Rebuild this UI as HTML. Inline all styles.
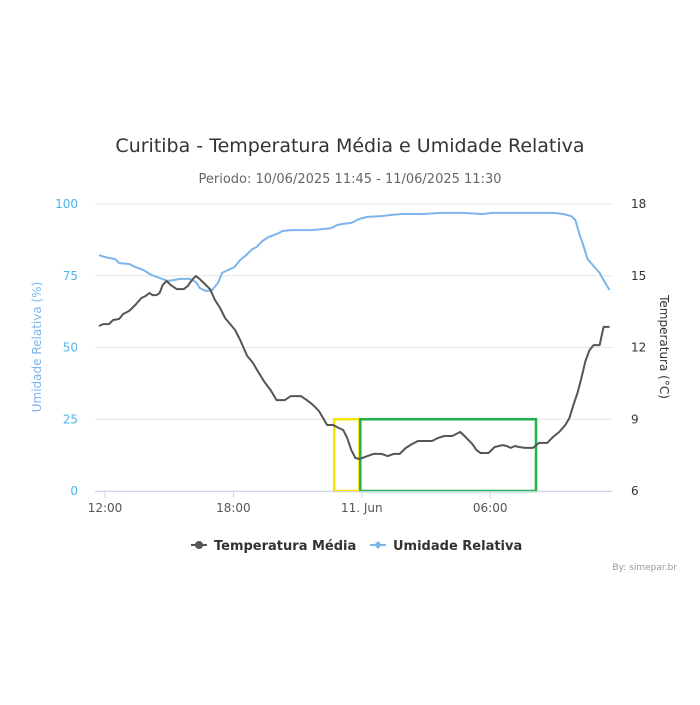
<!DOCTYPE html>
<html><head><meta charset="utf-8"><style>
body{margin:0;background:#fff;font-family:"Liberation Sans","DejaVu Sans",sans-serif}
svg text{font-family:"DejaVu Sans","Liberation Sans",sans-serif}
</style></head><body>
<svg id="chart" width="700" height="700" xmlns="http://www.w3.org/2000/svg">
<rect width="700" height="700" fill="#fff"/>
<text x="350" y="152" text-anchor="middle" font-size="19" fill="#333">Curitiba - Temperatura Média e Umidade Relativa</text>
<text x="350" y="183" text-anchor="middle" font-size="13" fill="#666">Periodo: 10/06/2025 11:45 - 11/06/2025 11:30</text>
<g id="grid"></g>
<g id="boxes"></g>
<g id="series"></g>
<g id="axes"></g>
<text transform="translate(41,347) rotate(-90)" text-anchor="middle" font-size="12" fill="#7cb5ec">Umidade Relativa (%)</text>
<text transform="translate(660,347) rotate(90)" text-anchor="middle" font-size="12" fill="#333">Temperatura (°C)</text>
<g>
<line x1="191" y1="545" x2="207" y2="545" stroke="#555" stroke-width="2"/><circle cx="199" cy="545" r="4" fill="#555"/>
<text x="214" y="550" font-size="13" font-weight="bold" fill="#333">Temperatura Média</text></g>
<g>
<line x1="370" y1="545" x2="386" y2="545" stroke="#7cb5ec" stroke-width="2"/><path d="M378 541 L382 545 L378 549 L374 545Z" fill="#7cb5ec"/>
<text x="393" y="550" font-size="13" font-weight="bold" fill="#333">Umidade Relativa</text></g>
<text x="677" y="570" text-anchor="end" font-size="9" fill="#999">By: simepar.br</text>
</svg>
<script>
// hours since 10/06 12:00
const tempHours=[-0.28,-0.09,0.19,0.38,0.66,0.85,1.13,1.42,1.70,1.89,2.08,2.22,2.41,2.55,2.69,2.88,3.07,3.35,3.68,3.87,4.06,4.25,4.43,4.67,4.91,5.14,5.38,5.61,5.85,6.08,6.32,6.65,6.89,7.17,7.45,7.74,8.02,8.40,8.68,9.15,9.43,9.72,10.0,10.19,10.38,10.66,10.94,11.13,11.32,11.51,11.70,11.89,12.26,12.55,12.92,13.21,13.49,13.77,14.06,14.34,14.62,15.28,15.57,15.85,16.23,16.60,16.89,17.17,17.36,17.55,17.92,18.21,18.58,18.77,18.96,19.15,19.34,19.62,20.0,20.28,20.66,20.94,21.23,21.51,21.70,21.89,22.08,22.26,22.45,22.64,22.83,23.11,23.30,23.58];
const tempValues=[12.90,12.98,12.98,13.15,13.19,13.40,13.53,13.78,14.07,14.15,14.28,14.19,14.19,14.28,14.61,14.78,14.61,14.44,14.44,14.57,14.82,14.99,14.86,14.65,14.44,13.98,13.65,13.23,12.98,12.73,12.31,11.64,11.39,10.97,10.56,10.22,9.80,9.80,9.97,9.97,9.80,9.60,9.34,9.05,8.76,8.76,8.63,8.55,8.22,7.71,7.38,7.34,7.46,7.55,7.55,7.46,7.55,7.55,7.80,7.96,8.09,8.09,8.22,8.30,8.30,8.47,8.22,7.96,7.71,7.59,7.59,7.84,7.92,7.88,7.80,7.88,7.84,7.80,7.80,8.01,8.01,8.26,8.47,8.76,9.05,9.60,10.10,10.72,11.43,11.89,12.10,12.10,12.86,12.86];
const humHours=[-0.28,0,0.47,0.66,1.13,1.42,1.79,2.17,2.55,2.92,3.21,3.49,3.96,4.25,4.43,4.72,5.0,5.28,5.47,5.75,6.04,6.32,6.60,6.89,7.08,7.36,7.64,8.02,8.30,8.68,9.62,10.19,10.57,10.85,11.04,11.51,11.89,12.26,12.92,13.40,13.87,14.81,15.75,16.70,17.64,18.11,19.06,20.0,20.47,20.94,21.42,21.79,21.98,22.17,22.36,22.55,22.83,23.11,23.30,23.58];
const humValues=[82.2,81.5,80.8,79.4,79.1,78.0,77.0,75.3,74.2,73.2,73.5,73.9,73.9,72.8,70.7,69.7,70.0,72.5,76.0,77.0,78.0,80.5,82.2,84.3,85.0,87.1,88.5,89.5,90.6,90.9,90.9,91.3,91.6,92.7,93.0,93.4,94.8,95.5,95.8,96.2,96.5,96.5,96.9,96.9,96.5,96.9,96.9,96.9,96.9,96.9,96.5,95.8,94.4,89.5,85.4,80.8,78.4,76.0,73.5,70.0];
const humTicks=[0,25,50,75,100];
const tempTicks=[6,9,12,15,18];
const timeTicks=[0,6,12,18];
const timeLabels=["12:00","18:00","11. Jun","06:00"];
const yellowBox=[10.71,11.89,25];
const greenBox=[11.93,20.14,25];

const NS="http://www.w3.org/2000/svg";
const X0=95,X1=612,YT=204,YB=491;
const xS=h=>105+h*21.4;
const yH=v=>YB-(v/100)*(YB-YT);
const yT=v=>YB-((v-6)/12)*(YB-YT);
function mk(tag,attrs,parent){const e=document.createElementNS(NS,tag);for(const k in attrs)e.setAttribute(k,attrs[k]);document.getElementById(parent).appendChild(e);return e;}

humTicks.forEach((v,i)=>{
  const l=mk('line',{x1:X0,x2:X1,y1:yH(v),y2:yH(v),stroke:'#e6e6e6','stroke-width':1},'grid');
  
  
  const t=mk('text',{x:78,y:yH(v)+4,'text-anchor':'end','font-size':12,fill:'#4fb5e8'},'axes');
  t.textContent=v;
  
  
});
tempTicks.forEach(v=>{
  const t=mk('text',{x:631,y:yT(v)+4,'font-size':12,fill:'#333'},'axes');
  t.textContent=v;
  
  
});
const ax=mk('line',{x1:X0,x2:X1,y1:YB+0.5,y2:YB+0.5,stroke:'#ccd6eb','stroke-width':1},'axes');


timeTicks.forEach((h,i)=>{
  const k=mk('line',{x1:xS(h),x2:xS(h),y1:YB,y2:YB+7,stroke:'#ccd6eb'},'axes');
  
  
  const t=mk('text',{x:xS(h),y:YB+21,'text-anchor':'middle','font-size':12,fill:'#555'},'axes');
  t.textContent=timeLabels[i];
  
  
});
function box(b,color,name){
  const r=mk('rect',{x:xS(b[0]),y:yH(b[2]),width:xS(b[1])-xS(b[0]),height:YB-yH(b[2]),fill:'none',stroke:color,'stroke-width':2.5},'boxes');
  
  
}
box(yellowBox,'#f5e500','yellow-highlight-box');
box(greenBox,'#22b14c','green-highlight-box');
const hp=mk('path',{d:humHours.map((h,i)=>(i?'L':'M')+xS(h).toFixed(1)+' '+yH(humValues[i]).toFixed(1)).join(' '),fill:'none',stroke:'#7cb5ec','stroke-width':2,'stroke-linejoin':'round'},'series');


const tp=mk('path',{d:tempHours.map((h,i)=>(i?'L':'M')+xS(h).toFixed(1)+' '+yT(tempValues[i]).toFixed(1)).join(' '),fill:'none',stroke:'#555','stroke-width':2,'stroke-linejoin':'round'},'series');


</script>
</body></html>
